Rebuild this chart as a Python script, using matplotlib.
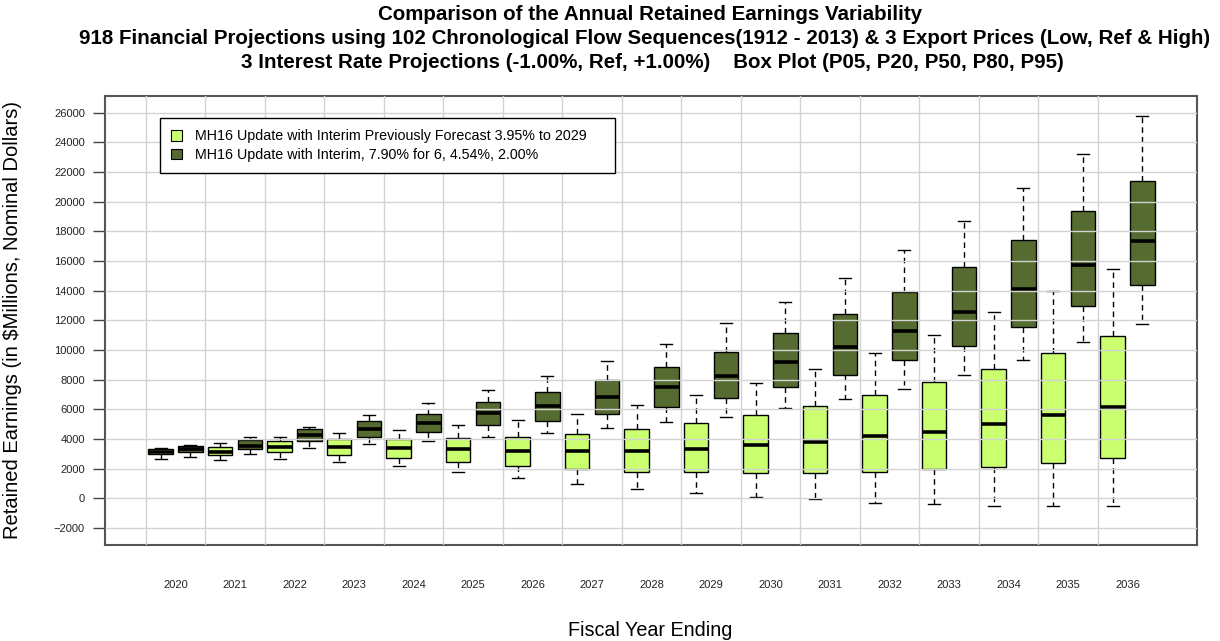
import matplotlib

matplotlib.use("Agg")
import matplotlib.pyplot as plt
import numpy as np
from matplotlib.patches import Patch

plt.rcParams["font.family"] = ["Liberation Sans", "DejaVu Sans"]

# fiscal years on the x axis
years = list(range(2020, 2037))

# "Previously Forecast 3.95% to 2029" run: P05, P20, P50, P80, P95 by year
prev_p05 = [2650, 2560, 2650, 2470, 2150, 1790, 1370, 940, 610, 340, 90, -70, -320, -400, -500, -500, -500]
prev_p20 = [2970, 2940, 3120, 2940, 2720, 2450, 2200, 1960, 1770, 1790, 1690, 1690, 1790, 1960, 2110, 2360, 2720]
prev_p50 = [3140, 3140, 3480, 3480, 3410, 3300, 3170, 3170, 3170, 3300, 3590, 3820, 4220, 4490, 5010, 5600, 6180]
prev_p80 = [3340, 3480, 3860, 4020, 4020, 4050, 4150, 4340, 4650, 5100, 5600, 6200, 6970, 7820, 8740, 9780, 10940]
prev_p95 = [3410, 3750, 4150, 4420, 4590, 4940, 5260, 5700, 6290, 6970, 7800, 8720, 9780, 11030, 12560, 13980, 15440]

# "7.90% for 6, 4.54%, 2.00%" run
new_p05 = [2810, 2970, 3410, 3640, 3880, 4150, 4420, 4740, 5170, 5500, 6080, 6720, 7390, 8310, 9330, 10520, 11730]
new_p20 = [3100, 3340, 3880, 4130, 4490, 4920, 5230, 5690, 6180, 6780, 7530, 8290, 9330, 10270, 11530, 12970, 14400]
new_p50 = [3320, 3530, 4270, 4670, 5100, 5730, 6240, 6810, 7510, 8230, 9190, 10200, 11280, 12540, 14130, 15710, 17370]
new_p80 = [3530, 3950, 4650, 5210, 5690, 6470, 7150, 7980, 8830, 9850, 11130, 12410, 13910, 15620, 17420, 19350, 21380]
new_p95 = [3600, 4150, 4830, 5600, 6410, 7300, 8250, 9260, 10430, 11800, 13240, 14860, 16740, 18720, 20940, 23240, 25780]

series_labels = [
    "MH16 Update with Interim Previously Forecast 3.95% to 2029",
    "MH16 Update with Interim, 7.90% for 6, 4.54%, 2.00%",
]
y_ticks = list(range(-2000, 26001, 2000))

LIGHT = "#CAFF70"
DARK = "#556B2F"


def make_stats(p05, p20, p50, p80, p95):
    return [
        dict(whislo=a, q1=b, med=c, q3=d, whishi=e, fliers=[])
        for a, b, c, d, e in zip(p05, p20, p50, p80, p95)
    ]


fig = plt.figure(figsize=(12.2, 6.41), dpi=100)
ax = fig.add_axes([105 / 1220, 1 - 545 / 641, 1092 / 1220, 449.3 / 641])

x = np.arange(len(years))
box_w = 0.41
for stats, offset, color in [
    (make_stats(prev_p05, prev_p20, prev_p50, prev_p80, prev_p95), -0.25, LIGHT),
    (make_stats(new_p05, new_p20, new_p50, new_p80, new_p95), 0.25, DARK),
]:
    ax.bxp(
        stats, positions=x + offset, widths=box_w, capwidths=box_w / 2,
        showfliers=False, patch_artist=True, manage_ticks=False,
        boxprops=dict(facecolor=color, edgecolor="black", linewidth=1.0),
        medianprops=dict(color="black", linewidth=2.6, solid_capstyle="butt"),
        whiskerprops=dict(color="black", linewidth=1.0, linestyle=(0, (4, 3))),
        capprops=dict(color="black", linewidth=1.0),
    )

ax.set_xlim(-1.185, 17.168)
ax.set_ylim(-3150, 27150)

# year labels sit at box-pair centres, grid runs between the pairs
ax.set_xticks(x)
ax.set_xticklabels([str(y) for y in years])
ax.set_xticks(x - 0.5, minor=True)
ax.set_yticks(y_ticks)
ax.tick_params(axis="x", which="both", length=0, pad=25, labelsize=8, labelcolor="#222222")
ax.tick_params(axis="y", length=8.5, width=1.0, pad=6, labelsize=8, labelcolor="#222222",
               color="#444444")
ax.grid(which="minor", axis="x", color="#d3d3d3", linewidth=1.0)
ax.grid(which="major", axis="y", color="#d3d3d3", linewidth=1.0)
ax.grid(which="major", axis="x", visible=False)
ax.set_axisbelow(False)

for sp in ax.spines.values():
    sp.set_color("#555555")
    sp.set_linewidth(1.5)

handles = [
    Patch(facecolor=LIGHT, edgecolor="black", linewidth=0.8),
    Patch(facecolor=DARK, edgecolor="black", linewidth=0.8),
]
leg_top = 1 - (118 - 95.7) / 449.3
leg_h = 55 / 449.3
leg = ax.legend(
    handles, series_labels, loc="upper left", mode="expand",
    bbox_to_anchor=((160 - 105) / 1092, leg_top - leg_h, 455 / 1092, leg_h),
    fontsize=10.3, fancybox=False, framealpha=1, edgecolor="black",
    handlelength=0.75, handleheight=0.75, handletextpad=0.9,
    borderpad=0.8, labelspacing=0.3, borderaxespad=0,
)
leg.get_frame().set_linewidth(1.0)
leg.set_zorder(5)

ax.set_ylabel("Retained Earnings (in $Millions, Nominal Dollars)", fontsize=14.5)
ax.yaxis.set_label_coords((22 - 105) / 1092, (545 - 320) / 449.3)
fig.text(650 / 1220, 1 - 630 / 641, "Fiscal Year Ending", ha="center", va="center", fontsize=14.2)

title_lines = [
    (650, 15, "Comparison of the Annual Retained Earnings Variability"),
    (645, 39, "918 Financial Projections using 102 Chronological Flow Sequences(1912 - 2013) "
              "& 3 Export Prices (Low, Ref & High)"),
    (652, 63, "3 Interest Rate Projections (-1.00%, Ref, +1.00%)    Box Plot (P05, P20, P50, P80, P95)"),
]
for tx, ty, s in title_lines:
    fig.text(tx / 1220, 1 - ty / 641, s, ha="center", va="center",
             fontsize=14.8, fontweight="bold")

fig.savefig("out.png", dpi=100)
